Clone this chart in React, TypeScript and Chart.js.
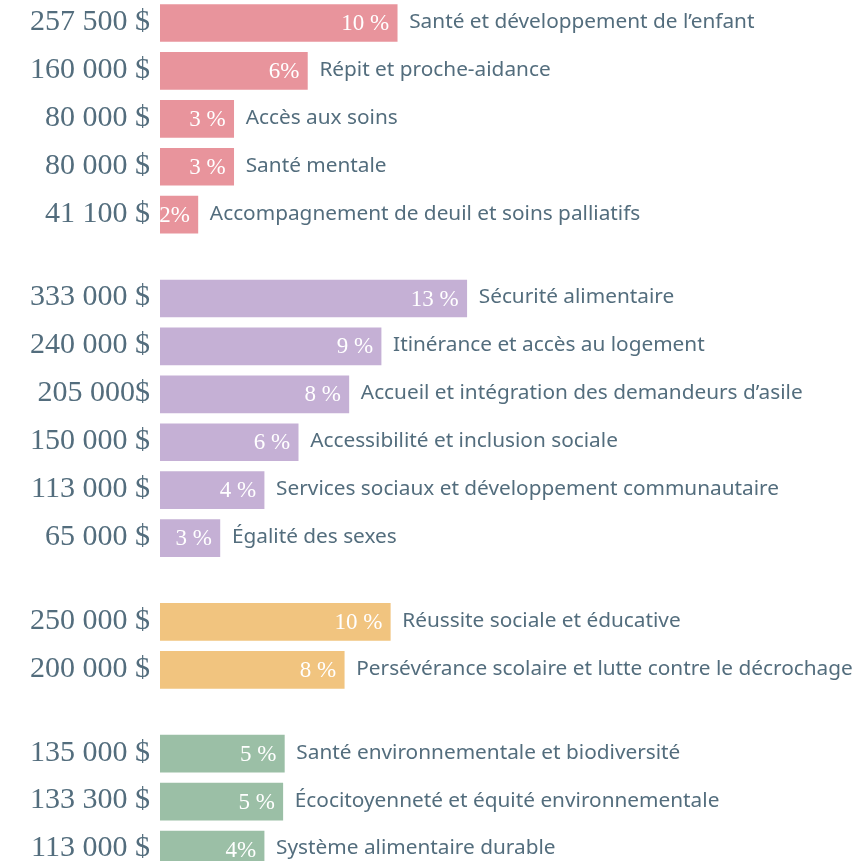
import { useEffect, useRef } from "react";
import { Chart, registerables } from "chart.js";

Chart.register(...registerables);

const groupSizes = [5, 6, 2, 3];
const groupColors = ["#e8949c", "#c5b0d5", "#f1c47f", "#9bbfa6"];

const categories = [
  "Santé et développement de l’enfant",
  "Répit et proche-aidance",
  "Accès aux soins",
  "Santé mentale",
  "Accompagnement de deuil et soins palliatifs",
  "Sécurité alimentaire",
  "Itinérance et accès au logement",
  "Accueil et intégration des demandeurs d’asile",
  "Accessibilité et inclusion sociale",
  "Services sociaux et développement communautaire",
  "Égalité des sexes",
  "Réussite sociale et éducative",
  "Persévérance scolaire et lutte contre le décrochage",
  "Santé environnementale et biodiversité",
  "Écocitoyenneté et équité environnementale",
  "Système alimentaire durable",
];

const amounts = [
  257500, 160000, 80000, 80000, 41100,
  333000, 240000, 205000, 150000, 113000, 65000,
  250000, 200000,
  135000, 133300, 113000,
];

const amountLabels = [
  "257 500 $", "160 000 $", "80 000 $", "80 000 $", "41 100 $",
  "333 000 $", "240 000 $", "205 000$", "150 000 $", "113 000 $", "65 000 $",
  "250 000 $", "200 000 $",
  "135 000 $", "133 300 $", "113 000 $",
];

const percentLabels = [
  "10 %", "6%", "3 %", "3 %", "2%",
  "13 %", "9 %", "8 %", "6 %", "4 %", "3 %",
  "10 %", "8 %",
  "5 %", "5 %", "4%",
];

const GROUP_GAP = 0.75;

export default function App() {
  const ref = useRef<HTMLCanvasElement | null>(null);

  useEffect(() => {
    if (!ref.current) return;
    const positions: number[] = [];
    const colors: string[] = [];
    let row = 0;
    groupSizes.forEach((size, g) => {
      for (let i = 0; i < size; i++) {
        positions.push(row + g * GROUP_GAP);
        colors.push(groupColors[g]);
        row++;
      }
    });
    const data = amounts.map((v, i) => ({ x: v, y: positions[i] }));

    const textColor = "#536d7d";

    const labelPlugin = {
      id: "barLabels",
      afterDatasetsDraw(chart: any) {
        const ctx = chart.ctx as CanvasRenderingContext2D;
        const meta = chart.getDatasetMeta(0);
        ctx.save();
        meta.data.forEach((el: any, i: number) => {
          const y = el.y;
          ctx.textBaseline = "middle";
          // amount (left)
          ctx.font = "30px 'Liberation Serif'";
          ctx.fillStyle = textColor;
          ctx.textAlign = "right";
          ctx.fillText(amountLabels[i], el.base - 10, y - 1);
          // percent inside
          ctx.font = "23px 'Liberation Serif'";
          ctx.fillStyle = "#ffffff";
          ctx.textAlign = "right";
          ctx.fillText(percentLabels[i], el.x - 8, y + 1);
          // category right
          ctx.font = "20.8px 'Noto Sans'";
          ctx.fillStyle = textColor;
          ctx.textAlign = "left";
          ctx.fillText(categories[i], el.x + 12, y - 1);
        });
        ctx.restore();
      },
    };

    const chart = new Chart(ref.current, {
      type: "bar",
      data: {
        datasets: [
          {
            data,
            backgroundColor: colors,
            borderWidth: 0,
            barThickness: 37,
          },
        ],
      },
      options: {
        indexAxis: "y",
        animation: false,
        responsive: false,
        layout: { padding: { left: 160, right: 0, top: 0, bottom: 0 } },
        plugins: {
          legend: { display: false },
          tooltip: { enabled: false },
        },
        scales: {
          x: { type: "linear", min: 0, max: 761000, display: false, offset: false },
          y: { type: "linear", min: -0.48, max: 17.49, reverse: true, display: false, offset: false },
        },
      },
      plugins: [labelPlugin],
    } as any);

    return () => chart.destroy();
  }, []);

  return (
    <div style={{ position: "fixed", left: 0, top: 0, width: 861, height: 861, background: "#ffffff" }}>
      <canvas ref={ref} width={861} height={861} style={{ display: "block" }} />
    </div>
  );
}
